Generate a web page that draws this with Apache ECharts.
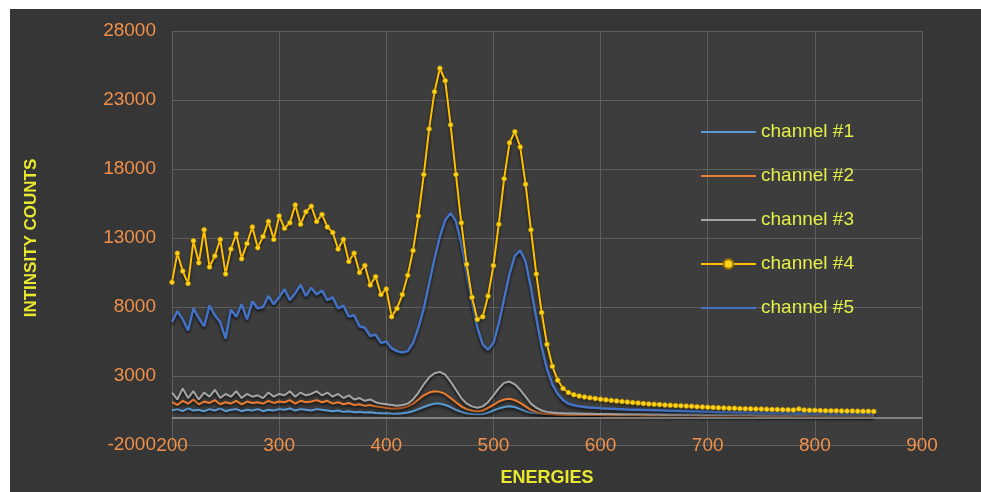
<!DOCTYPE html>
<html><head><meta charset="utf-8">
<script src="https://cdn.jsdelivr.net/npm/echarts@6/dist/echarts.min.js"></script>
<style>
html,body{margin:0;padding:0;background:#fff;width:981px;height:492px;overflow:hidden}
#c{position:absolute;left:10px;top:9px;width:971px;height:483px}
</style></head><body><div id="c"></div>
<script>
// Energies (x values)
const energies = [200,205,210,215,220,225,230,235,240,245,250,255,260,265,270,275,280,285,290,295,
300,305,310,315,320,325,330,335,340,345,350,355,360,365,370,375,380,385,390,395,
400,405,410,415,420,425,430,435,440,445,450,455,460,465,470,475,480,485,490,495,
500,505,510,515,520,525,530,535,540,545,550,555,560,565,570,575,580,585,590,595,
600,605,610,615,620,625,630,635,640,645,650,655,660,665,670,675,680,685,690,695,
700,705,710,715,720,725,730,735,740,745,750,755,760,765,770,775,780,785,790,795,
800,805,810,815,820,825,830,835,840,845,850,855];

const seriesNames = ['channel #1','channel #2','channel #3','channel #4','channel #5'];

const channel1 = [500,600,450,650,500,550,450,600,500,650,450,550,600,450,550,500,600,450,550,500,
600,550,650,500,600,550,500,600,550,500,450,500,400,450,380,400,350,380,320,300,
300,280,270,300,350,450,600,750,900,1000,1000,900,750,550,400,300,250,220,250,350,
500,650,750,800,750,600,450,330,300,280,270,265,262,262,260,
260,260,255,255,250,250,245,245,240,240,235,235,230,230,225,225,220,220,215,215,
210,210,205,205,200,200,200,195,195,190,190,185,185,180,180,180,175,175,170,170,
170,165,165,165,160,160,160,155,155,155,150,150,150,150,145,145,145];

const channel2 = [1100,900,1200,1000,1300,950,1150,1050,1250,950,1100,1000,1200,950,1150,1050,1100,1000,1200,1050,
1150,1100,1250,1000,1200,1100,1150,1250,1100,1200,1000,1100,950,1050,900,950,850,900,800,750,
700,650,650,700,800,1000,1300,1600,1800,1900,1850,1700,1400,1100,800,600,500,450,500,700,
900,1150,1300,1350,1250,1050,800,550,400,300,250,220,200,190,180,
180,175,170,170,165,165,160,160,155,155,150,150,150,145,145,140,140,140,135,135,
130,130,130,130,125,125,125,120,120,120,120,115,115,115,115,110,110,110,110,110,
105,105,105,105,105,100,100,100,100,100,100,100,95,95,95,95,95];

const channel3 = [1800,1300,2100,1400,1900,1300,1800,1500,2000,1400,1700,1500,1900,1400,1700,1500,1600,1400,1800,1500,
1700,1600,1900,1500,1800,1600,1700,1900,1600,1800,1500,1700,1400,1600,1300,1400,1200,1300,1100,1000,
950,900,850,900,1000,1300,1800,2400,2900,3200,3300,3100,2600,2000,1400,1000,800,700,800,1100,
1600,2100,2500,2600,2400,2000,1500,1000,700,500,400,350,320,300,290,280,270,260,260,250,
250,240,240,230,230,230,220,220,220,210,210,210,200,200,200,200,190,190,190,190,
180,180,180,180,170,170,170,170,170,160,160,160,160,160,160,150,150,150,150,150,
150,150,140,140,140,140,140,140,140,130,130,130];

const channel4 = [9800,11900,10600,9700,12800,11200,13600,10900,11700,12900,10400,12200,13300,11500,12600,13800,12300,13100,14200,12900,
14600,13700,14100,15400,14000,14900,15300,14200,14700,13800,13400,12200,12900,11300,11900,10500,11000,9600,10200,8900,
9300,7300,7900,8900,10300,12100,14600,17600,20900,23600,25300,24400,21200,17600,14100,11100,8700,7100,7300,8800,
11000,14000,17300,19900,20700,19600,16900,13600,10400,7600,5300,3700,2700,2100,1800,1650,1550,1480,1420,1370,
1320,1270,1230,1190,1150,1110,1080,1050,1010,980,950,930,900,880,860,840,820,800,780,760,
740,720,700,690,670,660,640,630,620,610,600,590,580,570,560,550,540,600,530,520,
510,500,490,480,480,470,460,460,450,440,440,430];

const channel5 = [6900,7700,7100,6300,7900,7200,6600,8100,7400,6900,5700,7800,7300,8200,7100,8400,7900,8000,8800,8200,
8700,9300,8500,9000,9600,8800,9400,8900,9200,8500,8700,7900,8100,7300,7400,6600,6500,5900,6000,5400,
5500,5000,4800,4700,4800,5400,6500,7900,9700,11500,13100,14300,14800,14200,12600,10400,8300,6500,5300,4900,
5400,6800,8600,10400,11700,12100,11300,9400,7200,5100,3500,2400,1700,1250,1000,880,800,760,720,690,
660,640,620,600,590,570,560,550,540,530,520,510,500,490,480,470,460,450,440,430,
420,410,400,400,390,380,380,370,360,360,350,350,340,340,330,330,320,320,310,310,
300,300,300,290,290,290,280,280,280,270,270,260];

const xMin = 200, xMax = 900, xStep = 100;
const yMin = -2000, yMax = 28000, yStep = 5000;
const colors = ['#5b9bd5','#ed7d31','#a5a5a5','#ffc000','#4472c4'];
const allValues = [channel1, channel2, channel3, channel4, channel5];

const chart = echarts.init(document.getElementById('c'));
const labelFont = {fontFamily:'Liberation Sans', fontSize:19, color:'#f0904a'};
const shadow = {shadowColor:'rgba(0,0,0,0.75)', shadowBlur:3, shadowOffsetY:2};

const series = seriesNames.map((name, k) => {
  const isGold = k === 3;
  const s = {
    name: name,
    type: 'line',
    data: energies.map((e, i) => [e, allValues[k][i]]),
    color: colors[k],
    z: isGold ? 5 : (k === 4 ? 4 : 3),
    symbol: isGold ? 'circle' : 'none',
    symbolSize: 5,
    showSymbol: isGold,
    lineStyle: Object.assign({width: k === 4 ? 2.5 : 2, color: colors[k]}, shadow),
    itemStyle: isGold ? {color:'#ffd21a', borderColor:'#a07800', borderWidth:0.6} : {color: colors[k]},
    emphasis: {disabled: true},
    animation: false
  };
  if (k === 0) {
    s.markLine = {
      silent: true, symbol: 'none', label: {show:false},
      lineStyle: {color:'#9a9a9a', width:1.5, type:'solid'},
      data: [{yAxis: 0}]
    };
  }
  return s;
});

chart.setOption({
  backgroundColor: '#363636',
  animation: false,
  grid: {left:162, right:59, top:22, bottom:43, show:true, backgroundColor:'#3d3d3d', borderWidth:0},
  legend: {
    orient:'vertical', left:685, top:108, itemWidth:55, itemHeight:12, itemGap:24,
    textStyle:{fontFamily:'Liberation Sans', fontSize:19, color:'#e4ee48', lineHeight:20},
    data: seriesNames.map((n, k) => k === 3 ? {name:n} : {name:n, itemStyle:{opacity:0}})
  },
  xAxis: {
    type:'value', min:xMin, max:xMax, interval:xStep,
    name:'ENERGIES', nameLocation:'middle', nameGap:24,
    nameTextStyle:{fontFamily:'Liberation Sans', fontSize:18, fontWeight:'bold', color:'#e8e830'},
    axisLine:{show:false}, axisTick:{show:false},
    axisLabel: Object.assign({margin:1, verticalAlign:'middle', formatter: v => String(v)}, labelFont),
    splitLine:{show:true, lineStyle:{color:'#5e5e5e', width:1}}
  },
  yAxis: {
    type:'value', min:yMin, max:yMax, interval:yStep,
    name:'INTINSITY COUNTS', nameLocation:'middle', nameGap:132, nameRotate:90,
    nameTextStyle:{fontFamily:'Liberation Sans', fontSize:17, fontWeight:'bold', color:'#e8e830'},
    axisLine:{show:false}, axisTick:{show:false},
    axisLabel: Object.assign({margin:16, formatter: v => String(v)}, labelFont),
    splitLine:{show:true, lineStyle:{color:'#5e5e5e', width:1}}
  },
  series: series
});
</script></body></html>
